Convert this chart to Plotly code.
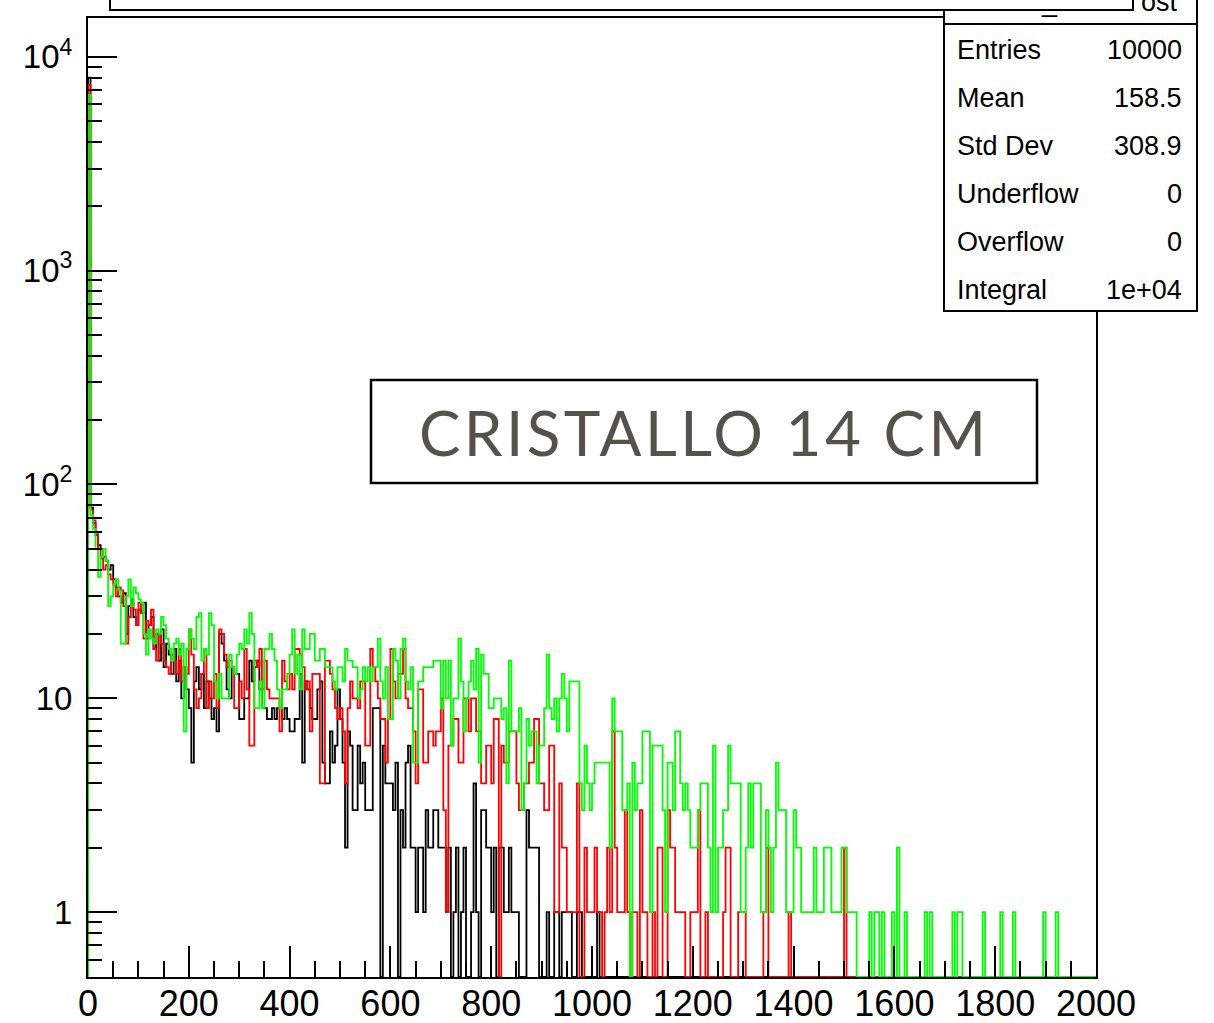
import plotly.graph_objects as go

# ---------------- data (counts per 5-unit bin, starting at 0) ----------------
BIN_WIDTH = 5
X_MIN, X_MAX = 0, 2000

black_counts = [
    8000, 78, 66, 58, 52, 50, 46, 44, 40, 42,
    36, 33, 30, 28, 31, 20, 27, 29, 24, 22,
    26, 25, 28, 19, 22, 24, 17, 20, 15, 21,
    14, 18, 16, 13, 17, 12, 15, 10, 14, 11,
    9, 5, 12, 14, 11, 13, 9, 12, 10, 8,
    9, 7, 20, 18, 15, 11, 10, 14, 13, 13,
    8, 8, 10, 10, 15, 12, 14, 15, 11, 9,
    9, 8, 8, 9, 8, 9, 9, 8, 9, 8,
    7, 7, 8, 8, 13, 5, 12, 11, 9, 8,
    8, 11, 12, 5, 4, 4, 7, 5, 6, 11,
    8, 5, 2, 7, 6, 3, 3, 6, 4, 5,
    3, 3, 3, 9, 9, 9, 0, 6, 4, 4,
    4, 3, 5, 0, 3, 2, 5, 6, 2, 2,
    1, 2, 2, 1, 3, 2, 2, 3, 3, 2,
    2, 2, 1, 2, 0, 1, 2, 0, 1, 2,
    0, 0, 1, 4, 1, 0, 3, 3, 2, 2,
    1, 2, 0, 2, 2, 1, 1, 2, 1, 1,
    1, 0, 0, 0, 3, 2, 2, 2, 2, 0,
    0, 0, 1, 0, 0, 1, 1, 0, 1, 1,
    1, 1, 0, 0, 1, 1, 0, 0, 0, 0,
    0, 0, 1,
]

red_counts = [
    7400, 76, 68, 60, 50, 45, 40, 42, 38, 36,
    34, 30, 33, 32, 27, 18, 24, 28, 26, 22,
    28, 25, 19, 23, 22, 26, 17, 15, 20, 18,
    15, 14, 13, 16, 15, 13, 17, 12, 14, 13,
    21, 16, 11, 9, 10, 13, 17, 9, 12, 10,
    13, 9, 21, 20, 16, 14, 15, 14, 9, 9,
    12, 10, 17, 11, 6, 6, 15, 14, 17, 11,
    15, 11, 10, 10, 10, 10, 7, 15, 12, 11,
    13, 11, 17, 17, 16, 14, 11, 12, 7, 13,
    13, 13, 4, 4, 15, 15, 13, 11, 9, 8,
    9, 7, 4, 9, 12, 10, 10, 9, 12, 12,
    6, 6, 17, 14, 12, 10, 8, 8, 5, 8,
    17, 12, 10, 13, 13, 17, 10, 9, 9, 7,
    4, 11, 11, 5, 5, 7, 7, 6, 7, 7,
    10, 3, 1, 6, 6, 8, 8, 5, 5, 10,
    10, 7, 10, 10, 7, 7, 4, 4, 6, 6,
    4, 8, 8, 0, 6, 5, 5, 7, 7, 7,
    4, 3, 3, 4, 4, 5, 5, 8, 8, 4,
    4, 3, 3, 6, 6, 1, 1, 4, 2, 2,
    1, 1, 1, 1, 4, 0, 0, 2, 1, 1,
    1, 2, 1, 1, 0, 1, 2, 1, 7, 2,
    1, 1, 1, 3, 1, 0, 1, 1, 0, 3,
    1, 1, 0, 0, 1, 0, 2, 2, 0, 0,
    3, 2, 2, 1, 1, 1, 1, 0, 0, 1,
    1, 1, 3, 0, 0, 1, 0, 0, 0, 0,
    0, 0, 1, 2, 2, 0, 0, 0, 1, 1,
    1, 0, 0, 0, 0, 0, 0, 0, 1, 2,
    0, 0, 0, 0, 0, 0, 0, 0, 1, 0,
    0, 0, 0, 0, 0, 0, 0, 0, 0, 0,
    0, 0, 0, 0, 0, 0, 0, 0, 0, 0,
    2,
]

green_counts = [
    6640, 72, 62, 50, 37, 46, 50, 44, 27, 30,
    34, 36, 32, 18, 18, 30, 36, 27, 33, 31,
    29, 28, 20, 16, 21, 19, 18, 21, 20, 24,
    22, 19, 17, 15, 18, 19, 16, 18, 7, 17,
    21, 19, 17, 24, 25, 15, 17, 16, 25, 22,
    12, 10, 13, 10, 10, 10, 16, 14, 13, 16,
    18, 17, 21, 18, 25, 20, 9, 9, 12, 9,
    17, 17, 20, 17, 15, 11, 9, 11, 11, 13,
    16, 21, 13, 16, 11, 21, 17, 17, 20, 20,
    15, 15, 17, 17, 14, 14, 14, 12, 11, 14,
    14, 12, 17, 15, 15, 14, 14, 10, 11, 14,
    12, 14, 12, 14, 14, 19, 12, 10, 14, 8,
    8, 17, 15, 10, 17, 19, 12, 11, 14, 5,
    5, 12, 12, 14, 14, 14, 14, 15, 15, 15,
    9, 15, 10, 15, 6, 10, 10, 19, 12, 7,
    10, 12, 15, 11, 17, 5, 16, 13, 13, 9,
    9, 10, 10, 10, 8, 9, 4, 15, 7, 7,
    7, 9, 3, 4, 8, 6, 7, 7, 4, 6,
    6, 9, 16, 9, 8, 10, 7, 10, 13, 10,
    7, 12, 12, 12, 12, 4, 3, 6, 4, 3,
    4, 5, 5, 5, 5, 5, 5, 2, 10, 7,
    7, 7, 3, 3, 4, 0, 5, 3, 4, 4,
    7, 7, 7, 1, 6, 6, 6, 6, 3, 1,
    5, 5, 3, 7, 7, 4, 3, 4, 3, 2,
    2, 2, 3, 4, 4, 4, 2, 1, 6, 1,
    2, 2, 3, 3, 6, 4, 4, 4, 4, 1,
    1, 2, 4, 2, 4, 4, 4, 1, 1, 3,
    2, 1, 2, 5, 3, 3, 3, 1, 1, 1,
    3, 2, 2, 1, 1, 1, 1, 1, 2, 1,
    1, 1, 2, 2, 2, 1, 1, 1, 1, 2,
    2, 1, 1, 1, 1, 0, 0, 0, 0, 0,
    1, 0, 1, 1, 0, 1, 0, 0, 0, 1,
    0, 2, 0, 0, 1, 0, 0, 0, 0, 0,
    0, 0, 1, 0, 1, 0, 0, 0, 0, 0,
    0, 0, 0, 1, 0, 1, 1, 0, 0, 0,
    0, 0, 0, 0, 0, 1, 0, 0, 0, 0,
    0, 0, 1, 0, 0, 0, 0, 1, 0, 0,
    0, 0, 0, 0, 0, 0, 0, 0, 0, 1,
    0, 0, 0, 0, 1,
]

x_tick_values = list(range(0, 2001, 200))
y_tick_values = [1, 10, 100, 1000, 10000]
y_tick_text = ["1", "10", "10<sup>2</sup>", "10<sup>3</sup>", "10<sup>4</sup>"]

stats_labels = ["Entries", "Mean", "Std Dev", "Underflow", "Overflow", "Integral"]
stats_values = ["10000", "158.5", "308.9", "0", "0", "1e+04"]
box_label = "CRISTALLO 14 CM"

# ---------------- layout geometry ----------------
W, H = 1214, 1023
L, R, T, B = 88, 118, 18, 46
PW, PH = W - L - R, H - T - B
YMIN, YMAX = -0.3037, 4.182
FLOOR = 10 ** YMIN
FONT = "Liberation Sans, Arial, Helvetica, sans-serif"


def px_x(px):
    return (px - L) / PW


def px_y(py):
    return (H - B - py) / PH


def step_xy(counts):
    n = (X_MAX - X_MIN) // BIN_WIDTH
    c = list(counts) + [0] * (n - len(counts))
    edges = [X_MIN + i * BIN_WIDTH for i in range(n + 1)]
    ys = [max(v, FLOOR) for v in c]
    x = [edges[0]] + edges[:-1] + [edges[-1], edges[-1]]
    y = [FLOOR] + ys + [ys[-1], FLOOR]
    return x, y


fig = go.Figure()
for counts, color in [(black_counts, "#000000"), (red_counts, "#ff0000"), (green_counts, "#00ff00")]:
    xs, ys = step_xy(counts)
    fig.add_trace(go.Scatter(x=xs, y=ys, mode="lines", line=dict(color=color, width=1.8, shape="hv"),
                             showlegend=False, hoverinfo="skip"))

y_minor = [k * 10 ** e for e in range(-1, 5) for k in range(2, 10) if FLOOR * 1.01 < k * 10 ** e < 10 ** YMAX]

fig.update_layout(
    width=W, height=H,
    margin=dict(l=L, r=R, t=T, b=B, autoexpand=False),
    paper_bgcolor="white", plot_bgcolor="white",
    showlegend=False,
    xaxis=dict(range=[X_MIN, X_MAX], tickmode="array", tickvals=x_tick_values,
               ticks="inside", ticklen=31, tickwidth=1.5, tickcolor="black",
               showline=True, linecolor="black", linewidth=2, mirror=True,
               showgrid=False, zeroline=False, automargin=False, ticklabelstandoff=-6,
               tickfont=dict(family=FONT, size=36, color="black"),
               minor=dict(ticks="inside", tickvals=list(range(0, 2001, 50)), ticklen=16,
                          tickwidth=1.5, tickcolor="black", showgrid=False)),
    yaxis=dict(type="log", range=[YMIN, YMAX], tickmode="array", tickvals=y_tick_values,
               ticktext=y_tick_text,
               ticks="inside", ticklen=29, tickwidth=1.5, tickcolor="black",
               showline=True, linecolor="black", linewidth=2, mirror=True,
               showgrid=False, zeroline=False, automargin=False, ticklabelstandoff=7,
               tickfont=dict(family=FONT, size=33, color="black"),
               minor=dict(ticks="inside", tickvals=y_minor, ticklen=14,
                          tickwidth=1.5, tickcolor="black", showgrid=False)),
)

shapes = []
# label box
shapes.append(dict(type="rect", xref="paper", yref="paper",
                   x0=px_x(371), x1=px_x(1037), y0=px_y(483), y1=px_y(380),
                   line=dict(color="black", width=2.5), fillcolor="white", layer="above"))
# stats box
shapes.append(dict(type="rect", xref="paper", yref="paper",
                   x0=px_x(944), x1=px_x(1197), y0=px_y(311), y1=px_y(-20),
                   line=dict(color="black", width=2), fillcolor="white", layer="above"))
shapes.append(dict(type="line", xref="paper", yref="paper",
                   x0=px_x(944), x1=px_x(1197), y0=px_y(24), y1=px_y(24),
                   line=dict(color="black", width=2), layer="above"))
# title box (cut off at the top)
shapes.append(dict(type="rect", xref="paper", yref="paper",
                   x0=px_x(110), x1=px_x(1133), y0=px_y(10), y1=px_y(-20),
                   line=dict(color="black", width=2), fillcolor="white", layer="above"))
fig.update_layout(shapes=shapes)

ann = []
ann.append(dict(xref="paper", yref="paper", x=px_x(704), y=px_y(432), xanchor="center", yanchor="middle",
                text='<span style="letter-spacing:3.4px">' + box_label + "</span>", showarrow=False,
                font=dict(family="Lato, Noto Sans, sans-serif", size=62, color="#57514b")))
row_y = [50, 98, 146, 194, 242, 290]
for lab, val, yy in zip(stats_labels, stats_values, row_y):
    ann.append(dict(xref="paper", yref="paper", x=px_x(955), y=px_y(yy), xanchor="left", yanchor="middle",
                    text=lab, showarrow=False, font=dict(family=FONT, size=27, color="black")))
    ann.append(dict(xref="paper", yref="paper", x=px_x(1184), y=px_y(yy), xanchor="right", yanchor="middle",
                    text=val, showarrow=False, font=dict(family=FONT, size=27, color="black")))
# visible fragments of the stats-box name behind the title box
ann.append(dict(xref="paper", yref="paper", x=px_x(1180), y=px_y(2), xanchor="right", yanchor="middle",
                text="ost", showarrow=False, font=dict(family=FONT, size=27, color="black")))
ann.append(dict(xref="paper", yref="paper", x=px_x(1049), y=px_y(2), xanchor="center", yanchor="middle",
                text="_", showarrow=False, font=dict(family=FONT, size=27, color="black")))
fig.update_layout(annotations=ann)

fig.write_html("out.html")
